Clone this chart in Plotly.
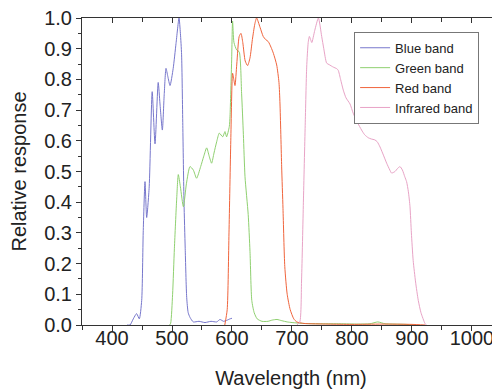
import plotly.graph_objects as go

# ---- data ----
blue_wl = [425, 430, 435.5, 441, 445.5, 449.5, 452, 455, 457.8, 462, 467, 471.7, 477, 480, 483.9,
           487, 490, 493, 496.7, 502, 506.7, 511.7, 514, 516, 518, 520, 522, 524.5, 527, 530,
           535.5, 545, 555, 565, 574.5, 580, 586, 591, 596.7, 600]
blue_r = [0.0, 0.0, 0.02, 0.037, 0.02, 0.08, 0.3, 0.467, 0.35, 0.45, 0.76, 0.59, 0.79, 0.72, 0.635,
          0.75, 0.836, 0.81, 0.78, 0.836, 0.917, 1.0, 0.95, 0.88, 0.65, 0.40, 0.25, 0.09, 0.04, 0.025,
          0.01, 0.012, 0.008, 0.012, 0.01, 0.018, 0.012, 0.015, 0.02, 0.022]

green_wl = [496, 497.8, 501, 504, 507.8, 510.5, 514, 519, 524, 530, 535.5, 541, 547.8, 553, 557.8,
            562, 566, 570, 574.5, 578.9, 584.5, 588.3, 591, 595.5, 596.7, 599.4, 601, 603.3, 607.8,
            612, 616, 619, 621.7, 627, 630, 633, 637, 642, 650, 660, 667, 675, 683, 692, 700, 720,
            750, 780, 810, 830, 843, 855, 870, 890, 903]
green_r = [0.0, 0.006, 0.1, 0.25, 0.41, 0.49, 0.45, 0.385, 0.46, 0.516, 0.505, 0.478, 0.516, 0.55,
           0.577, 0.55, 0.527, 0.56, 0.597, 0.625, 0.613, 0.63, 0.613, 0.646, 0.68, 0.86, 0.99, 0.92,
           0.896, 0.89, 0.755, 0.62, 0.483, 0.36, 0.24, 0.08, 0.04, 0.02, 0.012, 0.012, 0.016, 0.018,
           0.014, 0.01, 0.008, 0.005, 0.004, 0.004, 0.003, 0.004, 0.01, 0.004, 0.003, 0.002, 0.0]

red_wl = [588, 592, 595, 598, 601, 603, 605, 608, 612, 615, 618, 622, 626, 630, 634, 638, 641,
          646.7, 652, 656, 660.5, 665, 669, 674.5, 678.3, 680, 682.8, 685, 688, 692, 697, 703,
          708, 720, 760, 800, 850, 900, 922]
red_r = [0.0, 0.05, 0.3, 0.6, 0.82, 0.8, 0.78, 0.85, 0.94, 0.95, 0.92, 0.86, 0.845, 0.87, 0.93, 0.98,
         1.0, 0.97, 0.94, 0.93, 0.923, 0.905, 0.885, 0.847, 0.79, 0.72, 0.515, 0.38, 0.19, 0.10, 0.05,
         0.02, 0.01, 0.005, 0.003, 0.002, 0.003, 0.002, 0.0]

ir_wl = [708, 713, 716, 719, 722, 724.5, 727, 729, 731, 733, 738, 744, 749.5, 753, 757.8, 762,
         768.9, 774.5, 777, 781, 785.5, 790, 796.7, 802, 809, 816, 821, 827, 832, 838, 842, 846.7,
         851, 857.8, 863, 866, 871.7, 876, 880, 884, 888, 891, 894, 896.7, 899, 902, 906, 910.5,
         915, 921.7, 924]
ir_r = [0.0, 0.01, 0.15, 0.4, 0.65, 0.84, 0.92, 0.94, 0.93, 0.92, 0.96, 1.0, 0.94, 0.9, 0.853,
        0.848, 0.84, 0.835, 0.83, 0.8, 0.765, 0.74, 0.72, 0.69, 0.66, 0.635, 0.62, 0.61, 0.606,
        0.603, 0.597, 0.58, 0.56, 0.527, 0.505, 0.495, 0.5, 0.51, 0.516, 0.505, 0.483, 0.467,
        0.434, 0.385, 0.3, 0.21, 0.14, 0.08, 0.04, 0.005, 0.0]

band_names = ["Blue band", "Green band", "Red band", "Infrared band"]
band_colors = ["#7777cc", "#8fd070", "#f0643c", "#e8a3c6"]

x_ticks = [400, 500, 600, 700, 800, 900, 1000]
y_ticks = [0.0, 0.1, 0.2, 0.3, 0.4, 0.5, 0.6, 0.7, 0.8, 0.9, 1.0]

FONT = "Arial, 'Liberation Sans', sans-serif"
X_RANGE = [350, 1046.7]
Y_RANGE = [0, 1]

fig = go.Figure()
series = [(blue_wl, blue_r), (green_wl, green_r), (red_wl, red_r), (ir_wl, ir_r)]
for i, ((wl, r), name, col) in enumerate(zip(series, band_names, band_colors)):
    fig.add_trace(go.Scatter(
        x=wl, y=r, mode="lines", name=name,
        line=dict(color=col, width=1, shape="spline", smoothing=0.6),
        xaxis="x2" if i == 3 else "x", yaxis="y2" if i == 3 else "y",
    ))

axis_col = "#333333"
# the page body adds an 8px offset, so the figure is 8px smaller and margins are shifted
fig.update_layout(
    width=492, height=383,
    margin=dict(l=74, r=0, t=10, b=66, autoexpand=False),
    paper_bgcolor="white", plot_bgcolor="white",
    font=dict(family=FONT, color="#222222", size=20),
    showlegend=True,
    legend=dict(x=0.651, y=0.955, xanchor="left", yanchor="top",
                bordercolor="#777777", borderwidth=1, bgcolor="white",
                font=dict(size=13, family=FONT, color="#222222"),
                tracegroupgap=0, itemwidth=30),
    xaxis=dict(range=X_RANGE, tickvals=x_ticks, ticktext=[str(v) for v in x_ticks],
               ticks="outside", ticklen=5, tickcolor=axis_col,
               showline=True, linecolor=axis_col, linewidth=1,
               showgrid=False, zeroline=False, automargin=False,
               ticklabelstandoff=-10, ticklabeloverflow="allow",
               minor=dict(tickvals=[v + 50 for v in [300] + x_ticks], ticks="outside",
                          ticklen=4, tickcolor=axis_col, showgrid=False),
               tickfont=dict(size=20),
               title=dict(text="Wavelength (nm)", font=dict(size=20), standoff=22)),
    yaxis=dict(range=Y_RANGE, tickvals=y_ticks, ticktext=[f"{v:.1f}" for v in y_ticks],
               ticks="outside", ticklen=5, tickcolor=axis_col,
               showline=True, linecolor=axis_col, linewidth=1,
               showgrid=False, zeroline=False, automargin=False,
               ticklabeloverflow="allow",
               minor=dict(tickvals=[v + 0.05 for v in y_ticks[:-1]], ticks="outside",
                          ticklen=3, tickcolor=axis_col, showgrid=False),
               tickfont=dict(size=20),
               title=dict(text="Relative response", font=dict(size=20), standoff=12)),
    xaxis2=dict(range=X_RANGE, overlaying="x", side="top", anchor="y2",
                tickvals=x_ticks, ticks="inside", ticklen=5, tickcolor=axis_col,
                showticklabels=False, showline=True, linecolor=axis_col, linewidth=1,
                showgrid=False, zeroline=False,
                minor=dict(tickvals=[v + 50 for v in [300] + x_ticks], ticks="inside",
                           ticklen=4, tickcolor=axis_col, showgrid=False)),
    yaxis2=dict(range=Y_RANGE, overlaying="y", side="right", anchor="x2",
                tickvals=y_ticks, ticks="inside", ticklen=7, tickcolor=axis_col,
                showticklabels=False, showline=False, showgrid=False, zeroline=False,
                minor=dict(tickvals=[v + 0.05 for v in y_ticks[:-1]], ticks="inside",
                           ticklen=4, tickcolor=axis_col, showgrid=False)),
)

fig.write_html("out.html")
